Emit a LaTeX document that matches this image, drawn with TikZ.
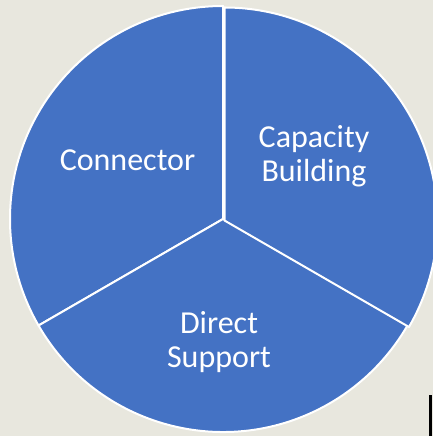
\documentclass[tikz,border=0pt]{standalone}
\usepackage{fontspec}
\setmainfont{Carlito}
\definecolor{piebg}{RGB}{232,231,222}
\definecolor{pieblue}{RGB}{68,114,196}
\tikzset{
	slice/.style={fill=pieblue,draw=white,line width=2pt,line join=round},
	slicetext/.style={text=white,font=\fontsize{32}{34}\selectfont,align=center}
}

\begin{document}
\begin{tikzpicture}[x=1pt,y=1pt]
			\useasboundingbox (0,0) rectangle (433,436);
			\clip (0,0) rectangle (433,436);
			\fill[piebg] (0,0) rectangle (433,436);
			\coordinate (c) at (223,217);
			\coordinate (c2) at (224.5,215.5);
			\draw[slice] (c) -- ++(90:213) arc (90:210:213) -- cycle;
			\draw[slice] (c) -- ++(210:213) arc (210:330:213) -- cycle;
			\draw[slice] (c2) -- ++(-30:213) arc (-30:90:213) -- cycle;
			\node[slicetext,anchor=base] (connector) at (127.5,265) {Connector};
			\node[slicetext] (capacity) at (314,280) {Capacity\\Building};
			\node[slicetext] (support) at (219,94) {Direct\\Support};
			\fill[black] (429,0) rectangle (432,41);
		\end{tikzpicture}
\end{document}
